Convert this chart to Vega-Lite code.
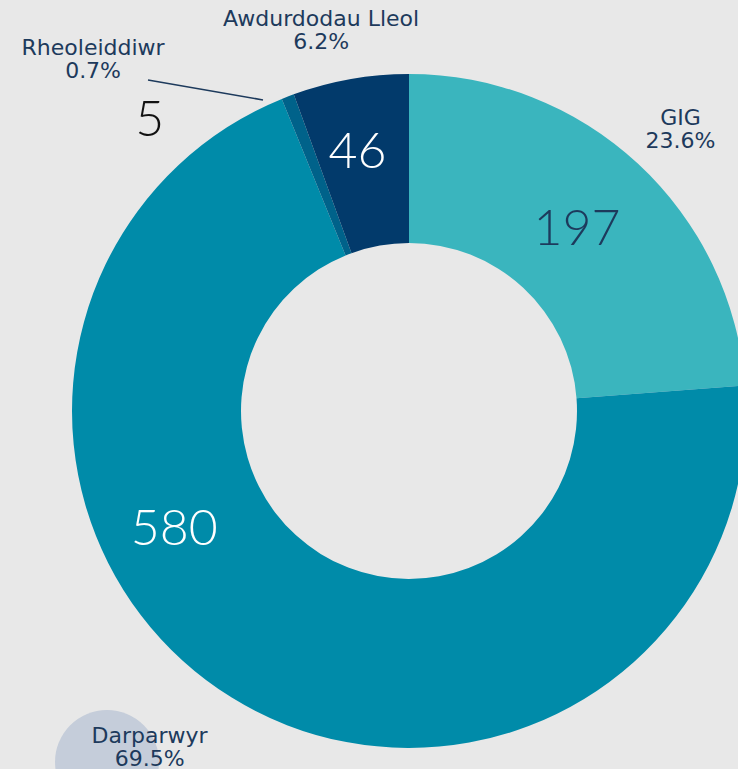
{
  "$schema": "https://vega.github.io/schema/vega-lite/v6.json",
  "width": 738,
  "height": 769,
  "padding": 0,
  "autosize": {"type": "none"},
  "background": "#e8e8e8",
  "config": {"view": {"stroke": null}},
  "datasets": {
    "slices": [
      {"cat": "GIG", "value": 197, "order": 1, "lbl": ["GIG", "23.6%"]},
      {"cat": "Darparwyr", "value": 580, "order": 2, "lbl": ["Darparwyr", "69.5%"]},
      {"cat": "Rheoleiddiwr", "value": 5, "order": 3, "lbl": ["Rheoleiddiwr", "0.7%"]},
      {"cat": "Awdurdodau Lleol", "value": 46, "order": 4, "lbl": ["Awdurdodau Lleol", "6.2%"]}
    ],
    "leader": [{"x": -261, "y": 331, "x2": -146, "y2": 311}],
    "spot": [{"x": -302, "y": -351}]
  },
  "data": {"name": "slices"},
  "layer": [
    {
      "data": {"name": "spot"},
      "mark": {"type": "circle", "size": 10800, "color": "#bcc5d6", "opacity": 0.8},
      "encoding": {
        "x": {"field": "x", "type": "quantitative", "scale": {"domain": [-409, 329], "nice": false, "zero": false}, "axis": null},
        "y": {"field": "y", "type": "quantitative", "scale": {"domain": [-358, 411], "nice": false, "zero": false}, "axis": null}
      }
    },
    {
      "mark": {"type": "arc", "outerRadius": 337, "innerRadius": 168},
      "encoding": {
        "x": {"datum": 0, "type": "quantitative"},
        "y": {"datum": 0, "type": "quantitative"},
        "theta": {"field": "value", "type": "quantitative", "stack": true},
        "order": {"field": "order", "type": "quantitative"},
        "color": {
          "field": "cat", "type": "nominal", "legend": null,
          "scale": {
            "domain": ["GIG", "Darparwyr", "Rheoleiddiwr", "Awdurdodau Lleol"],
            "range": ["#3ab5be", "#008ba9", "#00628a", "#023a6b"]
          }
        }
      }
    },
    {
      "data": {"name": "leader"},
      "mark": {"type": "rule", "color": "#1d3a5c", "strokeWidth": 1.6},
      "encoding": {
        "x": {"field": "x", "type": "quantitative"},
        "y": {"field": "y", "type": "quantitative"},
        "x2": {"field": "x2"},
        "y2": {"field": "y2"}
      }
    },
    {
      "mark": {"type": "text", "radius": 247, "font": "Lato", "fontWeight": 300, "fontSize": 50, "color": "#1d3a5c", "baseline": "middle", "align": "center"},
      "encoding": {
        "x": {"datum": 0, "type": "quantitative"},
        "y": {"datum": 0, "type": "quantitative"},
        "theta": {"field": "value", "type": "quantitative", "stack": true},
        "order": {"field": "order", "type": "quantitative"},
        "text": {"condition": {"test": "datum.cat === 'GIG'", "field": "value", "type": "quantitative"}, "value": ""}
      }
    },
    {
      "mark": {"type": "text", "radius": 262, "font": "Lato", "fontWeight": 300, "fontSize": 50, "color": "#ffffff", "baseline": "middle", "align": "center", "dx": -6},
      "encoding": {
        "x": {"datum": 0, "type": "quantitative"},
        "y": {"datum": 0, "type": "quantitative"},
        "theta": {"field": "value", "type": "quantitative", "stack": true},
        "order": {"field": "order", "type": "quantitative"},
        "text": {"condition": {"test": "datum.cat === 'Awdurdodau Lleol'", "field": "value", "type": "quantitative"}, "value": ""}
      }
    },
    {
      "mark": {"type": "text", "radius": 262, "font": "Lato", "fontWeight": 300, "fontSize": 50, "color": "#ffffff", "baseline": "middle", "align": "center", "dx": -97, "dy": -104},
      "encoding": {
        "x": {"datum": 0, "type": "quantitative"},
        "y": {"datum": 0, "type": "quantitative"},
        "theta": {"field": "value", "type": "quantitative", "stack": true},
        "order": {"field": "order", "type": "quantitative"},
        "text": {"condition": {"test": "datum.cat === 'Darparwyr'", "field": "value", "type": "quantitative"}, "value": ""}
      }
    },
    {
      "mark": {"type": "text", "radius": 262, "font": "Lato", "fontWeight": 300, "fontSize": 50, "color": "#111111", "baseline": "middle", "align": "center", "dx": -165, "dy": -46},
      "encoding": {
        "x": {"datum": 0, "type": "quantitative"},
        "y": {"datum": 0, "type": "quantitative"},
        "theta": {"field": "value", "type": "quantitative", "stack": true},
        "order": {"field": "order", "type": "quantitative"},
        "text": {"condition": {"test": "datum.cat === 'Rheoleiddiwr'", "field": "value", "type": "quantitative"}, "value": ""}
      }
    },
    {
      "mark": {"type": "text", "radius": 389, "font": "DejaVu Sans", "fontSize": 22, "lineHeight": 23, "color": "#1d3a5c", "baseline": "middle", "align": "center", "dx": 7, "dy": -8},
      "encoding": {
        "x": {"datum": 0, "type": "quantitative"},
        "y": {"datum": 0, "type": "quantitative"},
        "theta": {"field": "value", "type": "quantitative", "stack": true},
        "order": {"field": "order", "type": "quantitative"},
        "text": {"condition": {"test": "datum.cat === 'GIG'", "field": "lbl", "type": "nominal"}, "value": ""}
      }
    },
    {
      "mark": {"type": "text", "radius": 391, "font": "DejaVu Sans", "fontSize": 22, "lineHeight": 23, "color": "#1d3a5c", "baseline": "middle", "align": "center", "dx": -20, "dy": -7},
      "encoding": {
        "x": {"datum": 0, "type": "quantitative"},
        "y": {"datum": 0, "type": "quantitative"},
        "theta": {"field": "value", "type": "quantitative", "stack": true},
        "order": {"field": "order", "type": "quantitative"},
        "text": {"condition": {"test": "datum.cat === 'Awdurdodau Lleol'", "field": "lbl", "type": "nominal"}, "value": ""}
      }
    },
    {
      "mark": {"type": "text", "radius": 400, "font": "DejaVu Sans", "fontSize": 22, "lineHeight": 23, "color": "#1d3a5c", "baseline": "middle", "align": "center", "dx": -172, "dy": 10},
      "encoding": {
        "x": {"datum": 0, "type": "quantitative"},
        "y": {"datum": 0, "type": "quantitative"},
        "theta": {"field": "value", "type": "quantitative", "stack": true},
        "order": {"field": "order", "type": "quantitative"},
        "text": {"condition": {"test": "datum.cat === 'Rheoleiddiwr'", "field": "lbl", "type": "nominal"}, "value": ""}
      }
    },
    {
      "mark": {"type": "text", "radius": 400, "font": "DejaVu Sans", "fontSize": 22, "lineHeight": 23, "color": "#1d3a5c", "baseline": "middle", "align": "center", "dx": -49, "dy": -15},
      "encoding": {
        "x": {"datum": 0, "type": "quantitative"},
        "y": {"datum": 0, "type": "quantitative"},
        "theta": {"field": "value", "type": "quantitative", "stack": true},
        "order": {"field": "order", "type": "quantitative"},
        "text": {"condition": {"test": "datum.cat === 'Darparwyr'", "field": "lbl", "type": "nominal"}, "value": ""}
      }
    }
  ]
}
